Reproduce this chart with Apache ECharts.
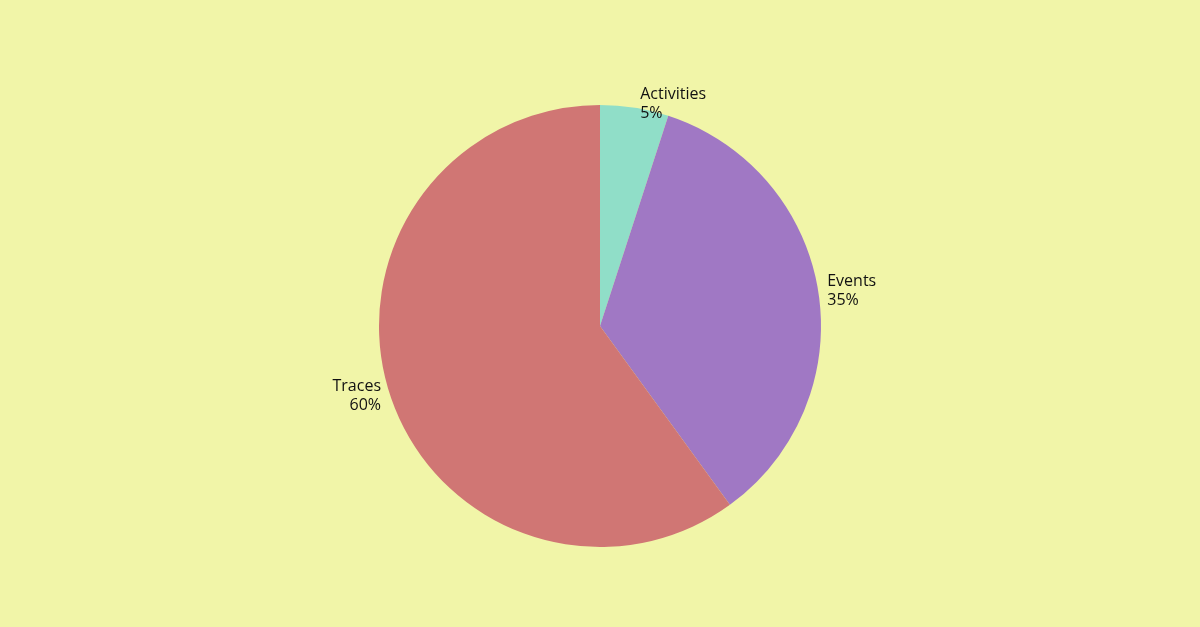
<!DOCTYPE html>
<html lang="en">
<head>
  <meta charset="UTF-8">
  <title>Pie</title>
  <script src="https://cdn.jsdelivr.net/npm/echarts@6/dist/echarts.min.js"></script>
  <style>html,body{margin:0;padding:0;background:#f1f5a8;}</style>
</head>
<body>
<div id="box" style="width:1200px;height:627px;"></div>
<script>
  var names = ['Activities', 'Events', 'Traces'];
  var values = [5, 35, 60];
  var colors = ['#90dec8', '#a078c4', '#d07674'];

  var chart = echarts.init(document.getElementById('box'));
  var data = names.map(function (n, i) {
    return { name: n, value: values[i], itemStyle: { color: colors[i] } };
  });
  chart.setOption({
    backgroundColor: '#f1f5a8',
    series: [{
      type: 'pie',
      center: [600, 326],
      radius: 221,
      startAngle: 90,
      clockwise: true,
      data: data,
      itemStyle: { borderColor: '#f1f5a8', borderWidth: 0 },
      label: {
        show: true,
        position: 'outside',
        formatter: '{b}\n{c}%',
        color: '#111',
        fontFamily: 'Open Sans',
        fontSize: 16,
        lineHeight: 19,
        align: 'center'
      },
      labelLine: { show: false, length: 4, length2: 0 },
      emphasis: { disabled: true }
    }]
  });
</script>
</body>
</html>
